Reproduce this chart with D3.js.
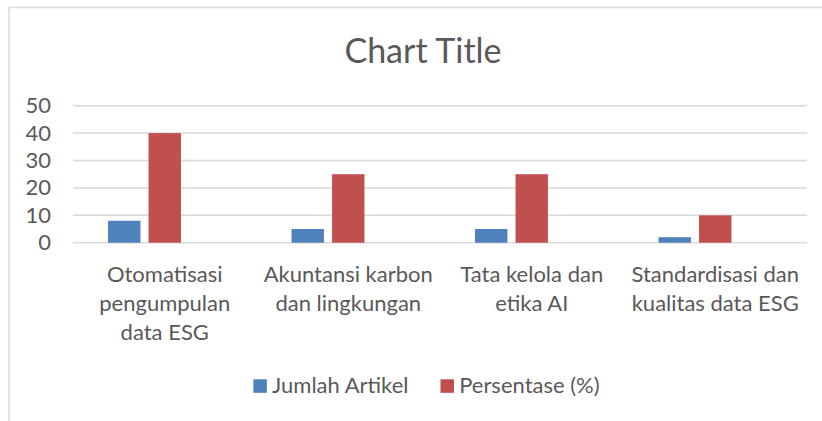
<!DOCTYPE html>
<html>
<head>
<meta charset="utf-8">
<script src="https://cdn.jsdelivr.net/npm/d3@7"></script>
<style>
  body { margin: 0; background: #fff; }
  svg text { font-family: Lato, "Open Sans", sans-serif; fill: #595959; }
</style>
</head>
<body>
<svg id="chart" width="822" height="421"></svg>
<script>
// chart values
const categories = ["Otomatisasi pengumpulan data ESG", "Akuntansi karbon dan lingkungan", "Tata kelola dan etika AI", "Standardisasi dan kualitas data ESG"];
const categoryLines = [
  ["Otomatisasi", "pengumpulan", "data ESG"],
  ["Akuntansi karbon", "dan lingkungan"],
  ["Tata kelola dan", "etika AI"],
  ["Standardisasi dan", "kualitas data ESG"]
];
const seriesNames = ["Jumlah Artikel", "Persentase (%)"];
const jumlahArtikel = [8, 5, 5, 2];
const persentase = [40, 25, 25, 10];
const yTicks = [0, 10, 20, 30, 40, 50];
const colors = ["#4f81bd", "#c0504d"];

const svg = d3.select("#chart");
const plot = { left: 73, right: 807, top: 105.7, bottom: 242.7 };

// chart frame (runs past the right / bottom edge in the source)
svg.append("rect")
  .attr("x", 9).attr("y", 7.5)
  .attr("width", 840).attr("height", 440)
  .attr("fill", "none")
  .attr("stroke", "#d9d9d9")
  .attr("stroke-width", 1.5);

svg.append("text")
  .attr("x", 423).attr("y", 63)
  .attr("text-anchor", "middle")
  .style("font-size", "34px")
  .text("Chart Title");

const y = d3.scaleLinear().domain([0, 50]).range([plot.bottom, plot.top]);
const x0 = d3.scaleBand().domain(categories).range([plot.left, plot.right]);
// three slots per category: the source sheet has an empty third column
const x1 = d3.scaleBand().domain([0, 1, 2]).range([0, x0.bandwidth()])
  .paddingInner(0.2).paddingOuter(0.865);

// gridlines
svg.append("g").selectAll("line")
  .data(yTicks)
  .join("line")
    .attr("x1", plot.left).attr("x2", plot.right)
    .attr("y1", d => y(d)).attr("y2", d => y(d))
    .attr("stroke", "#d9d9d9")
    .attr("stroke-width", 1.5);

// y labels
svg.append("g").selectAll("text")
  .data(yTicks)
  .join("text")
    .attr("x", 51)
    .attr("y", d => y(d) + 7.5)
    .attr("text-anchor", "end")
    .style("font-size", "22px")
    .text(d => d);

const series = [jumlahArtikel, persentase];
series.forEach((vals, si) => {
  svg.append("g").selectAll("rect")
    .data(vals)
    .join("rect")
      .attr("x", (d, i) => x0(categories[i]) + x1(si))
      .attr("y", d => y(d))
      .attr("width", x1.bandwidth())
      .attr("height", d => y(0) - y(d))
      .attr("fill", colors[si]);
});

// category labels
const lab = svg.append("g");
categories.forEach((c, i) => {
  const t = lab.append("text")
    .attr("text-anchor", "middle")
    .style("font-size", "22px");
  categoryLines[i].forEach((ln, j) => {
    t.append("tspan")
      .attr("x", x0(c) + x0.bandwidth() / 2)
      .attr("y", 281.7 + j * 29)
      .text(ln);
  });
});

// legend
const leg = svg.append("g");
let lx = 0;
const items = [];
seriesNames.forEach((name, i) => {
  const g = leg.append("g").attr("transform", `translate(${lx},0)`);
  g.append("rect")
    .attr("x", 0).attr("y", 379.3)
    .attr("width", 13.5).attr("height", 13.5)
    .attr("fill", colors[i]);
  const t = g.append("text")
    .attr("x", 18.7).attr("y", 393.3)
    .style("font-size", "22px")
    .text(name);
  lx += 18.7 + t.node().getComputedTextLength() + 32;
});
const legW = lx - 32;
leg.attr("transform", `translate(${426.5 - legW / 2},0)`);
</script>
</body>
</html>
